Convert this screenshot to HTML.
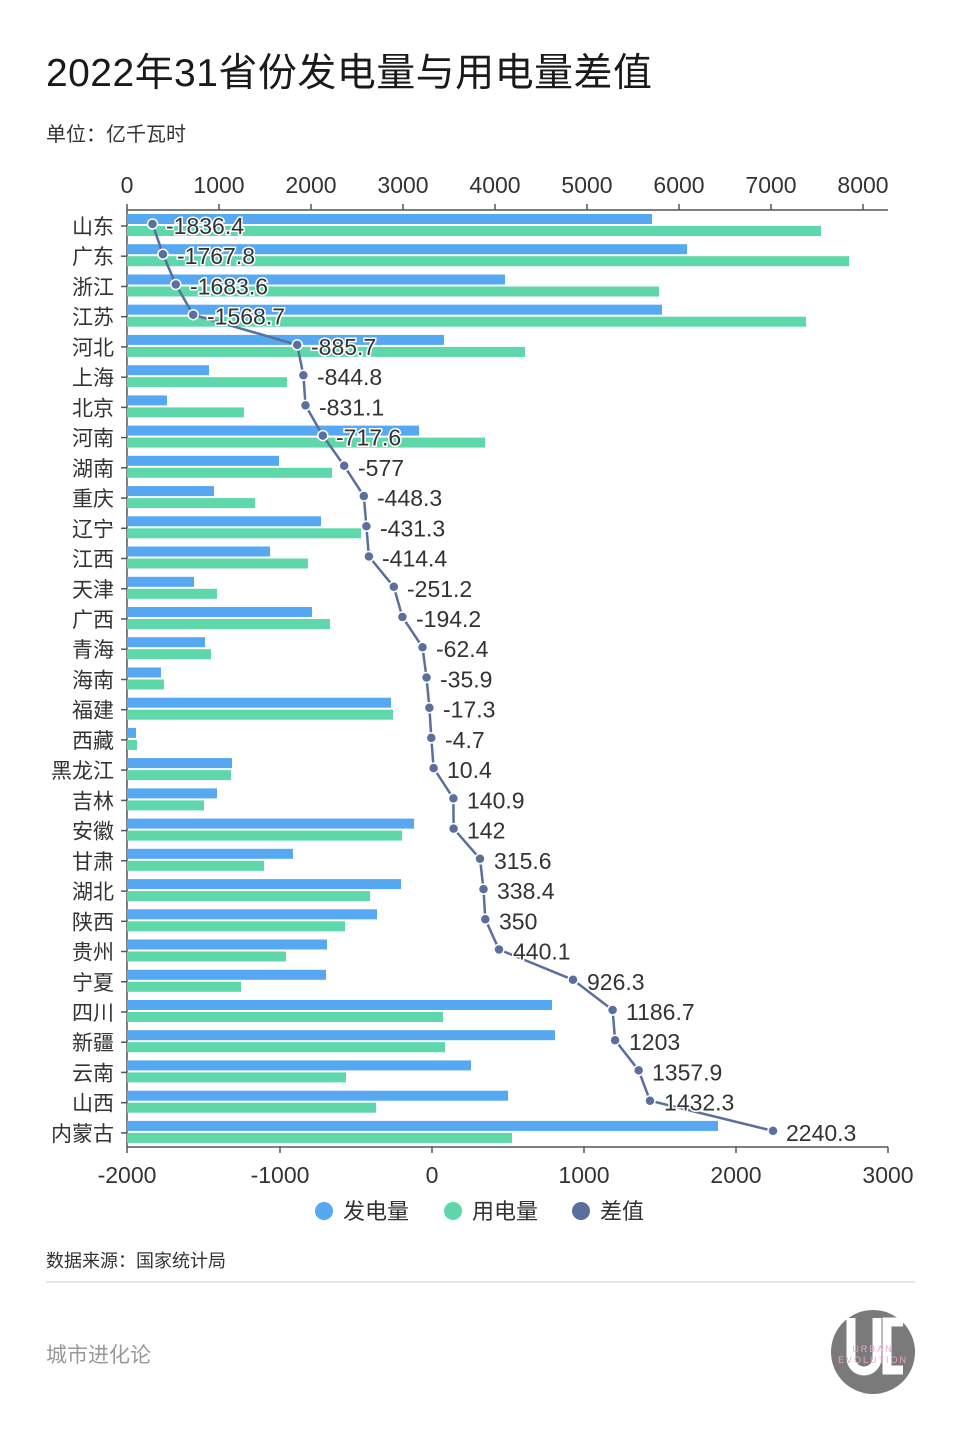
<!DOCTYPE html>
<html><head><meta charset="utf-8"><style>
html,body{margin:0;padding:0;background:#fff;}
svg{display:block;font-family:"Liberation Sans","Noto Sans CJK SC",sans-serif;}
.rl{font-size:21px;fill:#333;text-anchor:end;}
.ax{font-size:23px;fill:#333;text-anchor:middle;}
.vl{font-size:23px;fill:#333;stroke:#fff;stroke-width:3px;paint-order:stroke;}
.b{fill:#56a8f2;}.g{fill:#5ed8aa;}
</style></head><body>
<svg width="960" height="1440" viewBox="0 0 960 1440">
<rect width="960" height="1440" fill="#fff"/>
<text x="46" y="86" font-size="39" fill="#1a1a1a" textLength="606">2022年31省份发电量与用电量差值</text>
<text x="46" y="141" font-size="20" fill="#333">单位：亿千瓦时</text>

<!-- top axis -->
<g class="ax">
<text x="127" y="193">0</text><text x="219" y="193">1000</text><text x="311" y="193">2000</text><text x="403" y="193">3000</text><text x="495" y="193">4000</text><text x="587" y="193">5000</text><text x="679" y="193">6000</text><text x="771" y="193">7000</text><text x="863" y="193">8000</text>
</g>
<g stroke="#555" stroke-width="1.5">
<line x1="127" y1="210" x2="888" y2="210"/>
<line x1="127" y1="204" x2="127" y2="210"/><line x1="219" y1="204" x2="219" y2="210"/><line x1="311" y1="204" x2="311" y2="210"/><line x1="403" y1="204" x2="403" y2="210"/><line x1="495" y1="204" x2="495" y2="210"/><line x1="587" y1="204" x2="587" y2="210"/><line x1="679" y1="204" x2="679" y2="210"/><line x1="771" y1="204" x2="771" y2="210"/><line x1="863" y1="204" x2="863" y2="210"/>
<line x1="127" y1="1147" x2="888" y2="1147"/>
<line x1="127" y1="1147" x2="127" y2="1153"/><line x1="280" y1="1147" x2="280" y2="1153"/><line x1="432" y1="1147" x2="432" y2="1153"/><line x1="584" y1="1147" x2="584" y2="1153"/><line x1="736" y1="1147" x2="736" y2="1153"/><line x1="888" y1="1147" x2="888" y2="1153"/>
<line x1="127" y1="210" x2="127" y2="1147"/>
</g>
<g class="ax">
<text x="127" y="1183">-2000</text><text x="280" y="1183">-1000</text><text x="432" y="1183">0</text><text x="584" y="1183">1000</text><text x="736" y="1183">2000</text><text x="888" y="1183">3000</text>
</g>

<!-- bars -->
<g>
<rect class="b" x="127" y="214" width="525" height="10"/><rect class="g" x="127" y="226" width="694" height="10"/>
<rect class="b" x="127" y="244.2" width="560" height="10"/><rect class="g" x="127" y="256.2" width="722" height="10"/>
<rect class="b" x="127" y="274.5" width="378" height="10"/><rect class="g" x="127" y="286.5" width="532" height="10"/>
<rect class="b" x="127" y="304.7" width="535" height="10"/><rect class="g" x="127" y="316.7" width="679" height="10"/>
<rect class="b" x="127" y="334.9" width="317" height="10"/><rect class="g" x="127" y="346.9" width="398" height="10"/>
<rect class="b" x="127" y="365.2" width="82" height="10"/><rect class="g" x="127" y="377.2" width="160" height="10"/>
<rect class="b" x="127" y="395.4" width="40" height="10"/><rect class="g" x="127" y="407.4" width="117" height="10"/>
<rect class="b" x="127" y="425.6" width="292" height="10"/><rect class="g" x="127" y="437.6" width="358" height="10"/>
<rect class="b" x="127" y="455.8" width="152" height="10"/><rect class="g" x="127" y="467.8" width="205" height="10"/>
<rect class="b" x="127" y="486.1" width="87" height="10"/><rect class="g" x="127" y="498.1" width="128" height="10"/>
<rect class="b" x="127" y="516.3" width="194" height="10"/><rect class="g" x="127" y="528.3" width="234" height="10"/>
<rect class="b" x="127" y="546.5" width="143" height="10"/><rect class="g" x="127" y="558.5" width="181" height="10"/>
<rect class="b" x="127" y="576.8" width="67" height="10"/><rect class="g" x="127" y="588.8" width="90" height="10"/>
<rect class="b" x="127" y="607" width="185" height="10"/><rect class="g" x="127" y="619" width="203" height="10"/>
<rect class="b" x="127" y="637.2" width="78" height="10"/><rect class="g" x="127" y="649.2" width="84" height="10"/>
<rect class="b" x="127" y="667.5" width="34" height="10"/><rect class="g" x="127" y="679.5" width="37" height="10"/>
<rect class="b" x="127" y="697.7" width="264" height="10"/><rect class="g" x="127" y="709.7" width="266" height="10"/>
<rect class="b" x="127" y="727.9" width="9" height="10"/><rect class="g" x="127" y="739.9" width="10" height="10"/>
<rect class="b" x="127" y="758.1" width="105" height="10"/><rect class="g" x="127" y="770.1" width="104" height="10"/>
<rect class="b" x="127" y="788.4" width="90" height="10"/><rect class="g" x="127" y="800.4" width="77" height="10"/>
<rect class="b" x="127" y="818.6" width="287" height="10"/><rect class="g" x="127" y="830.6" width="275" height="10"/>
<rect class="b" x="127" y="848.8" width="166" height="10"/><rect class="g" x="127" y="860.8" width="137" height="10"/>
<rect class="b" x="127" y="879.1" width="274" height="10"/><rect class="g" x="127" y="891.1" width="243" height="10"/>
<rect class="b" x="127" y="909.3" width="250" height="10"/><rect class="g" x="127" y="921.3" width="218" height="10"/>
<rect class="b" x="127" y="939.5" width="200" height="10"/><rect class="g" x="127" y="951.5" width="159" height="10"/>
<rect class="b" x="127" y="969.8" width="199" height="10"/><rect class="g" x="127" y="981.8" width="114" height="10"/>
<rect class="b" x="127" y="1000" width="425" height="10"/><rect class="g" x="127" y="1012" width="316" height="10"/>
<rect class="b" x="127" y="1030.2" width="428" height="10"/><rect class="g" x="127" y="1042.2" width="318" height="10"/>
<rect class="b" x="127" y="1060.4" width="344" height="10"/><rect class="g" x="127" y="1072.4" width="219" height="10"/>
<rect class="b" x="127" y="1090.7" width="381" height="10"/><rect class="g" x="127" y="1102.7" width="249" height="10"/>
<rect class="b" x="127" y="1120.9" width="591" height="10"/><rect class="g" x="127" y="1132.9" width="385" height="10"/>
</g>

<!-- row labels and ticks -->
<g stroke="#555" stroke-width="1.5">
<line x1="121" y1="226" x2="127" y2="226"/><line x1="121" y1="256.2" x2="127" y2="256.2"/><line x1="121" y1="286.5" x2="127" y2="286.5"/><line x1="121" y1="316.7" x2="127" y2="316.7"/><line x1="121" y1="346.9" x2="127" y2="346.9"/><line x1="121" y1="377.2" x2="127" y2="377.2"/><line x1="121" y1="407.4" x2="127" y2="407.4"/><line x1="121" y1="437.6" x2="127" y2="437.6"/><line x1="121" y1="467.8" x2="127" y2="467.8"/><line x1="121" y1="498.1" x2="127" y2="498.1"/><line x1="121" y1="528.3" x2="127" y2="528.3"/><line x1="121" y1="558.5" x2="127" y2="558.5"/><line x1="121" y1="588.8" x2="127" y2="588.8"/><line x1="121" y1="619" x2="127" y2="619"/><line x1="121" y1="649.2" x2="127" y2="649.2"/><line x1="121" y1="679.5" x2="127" y2="679.5"/><line x1="121" y1="709.7" x2="127" y2="709.7"/><line x1="121" y1="739.9" x2="127" y2="739.9"/><line x1="121" y1="770.1" x2="127" y2="770.1"/><line x1="121" y1="800.4" x2="127" y2="800.4"/><line x1="121" y1="830.6" x2="127" y2="830.6"/><line x1="121" y1="860.8" x2="127" y2="860.8"/><line x1="121" y1="891.1" x2="127" y2="891.1"/><line x1="121" y1="921.3" x2="127" y2="921.3"/><line x1="121" y1="951.5" x2="127" y2="951.5"/><line x1="121" y1="981.8" x2="127" y2="981.8"/><line x1="121" y1="1012" x2="127" y2="1012"/><line x1="121" y1="1042.2" x2="127" y2="1042.2"/><line x1="121" y1="1072.4" x2="127" y2="1072.4"/><line x1="121" y1="1102.7" x2="127" y2="1102.7"/><line x1="121" y1="1132.9" x2="127" y2="1132.9"/>
</g>
<g class="rl">
<text x="114" y="234">山东</text><text x="114" y="264.2">广东</text><text x="114" y="294.5">浙江</text><text x="114" y="324.7">江苏</text><text x="114" y="354.9">河北</text><text x="114" y="385.2">上海</text><text x="114" y="415.4">北京</text><text x="114" y="445.6">河南</text><text x="114" y="475.8">湖南</text><text x="114" y="506.1">重庆</text><text x="114" y="536.3">辽宁</text><text x="114" y="566.5">江西</text><text x="114" y="596.8">天津</text><text x="114" y="627">广西</text><text x="114" y="657.2">青海</text><text x="114" y="687.5">海南</text><text x="114" y="717.7">福建</text><text x="114" y="747.9">西藏</text><text x="114" y="778.1">黑龙江</text><text x="114" y="808.4">吉林</text><text x="114" y="838.6">安徽</text><text x="114" y="868.8">甘肃</text><text x="114" y="899.1">湖北</text><text x="114" y="929.3">陕西</text><text x="114" y="959.5">贵州</text><text x="114" y="989.8">宁夏</text><text x="114" y="1020">四川</text><text x="114" y="1050.2">新疆</text><text x="114" y="1080.4">云南</text><text x="114" y="1110.7">山西</text><text x="114" y="1140.9">内蒙古</text>
</g>

<!-- diff line -->
<polyline fill="none" stroke="#5a6f9c" stroke-width="2.5" stroke-linejoin="round" points="152.5,224 162.9,254.2 175.8,284.5 193.2,314.7 297.2,344.9 303.4,375.2 305.5,405.4 322.8,435.6 344.2,465.8 363.8,496.1 366.4,526.3 368.9,556.5 393.8,586.8 402.4,617 422.5,647.2 426.5,677.5 429.4,707.7 431.3,737.9 433.6,768.1 453.4,798.4 453.6,828.6 480,858.8 483.5,889.1 485.3,919.3 499,949.5 573,979.8 612.6,1010 615.1,1040.2 638.7,1070.4 650,1100.7 773,1130.9"/>
<g fill="#5a6f9c" stroke="#fff" stroke-width="1.5">
<circle cx="152.5" cy="224" r="5"/><circle cx="162.9" cy="254.2" r="5"/><circle cx="175.8" cy="284.5" r="5"/><circle cx="193.2" cy="314.7" r="5"/><circle cx="297.2" cy="344.9" r="5"/><circle cx="303.4" cy="375.2" r="5"/><circle cx="305.5" cy="405.4" r="5"/><circle cx="322.8" cy="435.6" r="5"/><circle cx="344.2" cy="465.8" r="5"/><circle cx="363.8" cy="496.1" r="5"/><circle cx="366.4" cy="526.3" r="5"/><circle cx="368.9" cy="556.5" r="5"/><circle cx="393.8" cy="586.8" r="5"/><circle cx="402.4" cy="617" r="5"/><circle cx="422.5" cy="647.2" r="5"/><circle cx="426.5" cy="677.5" r="5"/><circle cx="429.4" cy="707.7" r="5"/><circle cx="431.3" cy="737.9" r="5"/><circle cx="433.6" cy="768.1" r="5"/><circle cx="453.4" cy="798.4" r="5"/><circle cx="453.6" cy="828.6" r="5"/><circle cx="480" cy="858.8" r="5"/><circle cx="483.5" cy="889.1" r="5"/><circle cx="485.3" cy="919.3" r="5"/><circle cx="499" cy="949.5" r="5"/><circle cx="573" cy="979.8" r="5"/><circle cx="612.6" cy="1010" r="5"/><circle cx="615.1" cy="1040.2" r="5"/><circle cx="638.7" cy="1070.4" r="5"/><circle cx="650" cy="1100.7" r="5"/><circle cx="773" cy="1130.9" r="5"/>
</g>
<g class="vl">
<text x="166" y="234">-1836.4</text><text x="177" y="264.2">-1767.8</text><text x="190" y="294.5">-1683.6</text><text x="207" y="324.7">-1568.7</text><text x="311" y="354.9">-885.7</text><text x="317" y="385.2">-844.8</text><text x="319" y="415.4">-831.1</text><text x="336" y="445.6">-717.6</text><text x="358" y="475.8">-577</text><text x="377" y="506.1">-448.3</text><text x="380" y="536.3">-431.3</text><text x="382" y="566.5">-414.4</text><text x="407" y="596.8">-251.2</text><text x="416" y="627">-194.2</text><text x="436" y="657.2">-62.4</text><text x="440" y="687.5">-35.9</text><text x="443" y="717.7">-17.3</text><text x="445" y="747.9">-4.7</text><text x="447" y="778.1">10.4</text><text x="467" y="808.4">140.9</text><text x="467" y="838.6">142</text><text x="494" y="868.8">315.6</text><text x="497" y="899.1">338.4</text><text x="499" y="929.3">350</text><text x="513" y="959.5">440.1</text><text x="587" y="989.8">926.3</text><text x="626" y="1020">1186.7</text><text x="629" y="1050.2">1203</text><text x="652" y="1080.4">1357.9</text><text x="664" y="1110.7">1432.3</text><text x="786" y="1140.9">2240.3</text>
</g>

<!-- legend -->
<circle cx="324" cy="1211" r="9" fill="#56a8f2"/><text x="343" y="1219" font-size="22" fill="#333">发电量</text>
<circle cx="453" cy="1211" r="9" fill="#5ed8aa"/><text x="472" y="1219" font-size="22" fill="#333">用电量</text>
<circle cx="581" cy="1211" r="9" fill="#5a6f9c"/><text x="600" y="1219" font-size="22" fill="#333">差值</text>

<text x="46" y="1267" font-size="18" fill="#333">数据来源：国家统计局</text>
<line x1="46" y1="1282" x2="915" y2="1282" stroke="#ddd" stroke-width="1.5"/>
<text x="46" y="1362" font-size="21" fill="#999">城市进化论</text>

<!-- logo -->
<circle cx="873" cy="1352" r="42" fill="#7a7a7a"/>
<path d="M851 1318 v40 a13 13 0 0 0 26 0 v-40" fill="none" stroke="#fff" stroke-width="9"/>
<path d="M903 1322 h-16 v48 h16" fill="none" stroke="#fff" stroke-width="9"/>
<text x="873" y="1352" font-size="9" fill="#e8a6c8" text-anchor="middle" letter-spacing="2">URBAN</text>
<text x="873" y="1363" font-size="9" fill="#e8a6c8" text-anchor="middle" letter-spacing="2">EVOLUTION</text>
</svg>
</body></html>
